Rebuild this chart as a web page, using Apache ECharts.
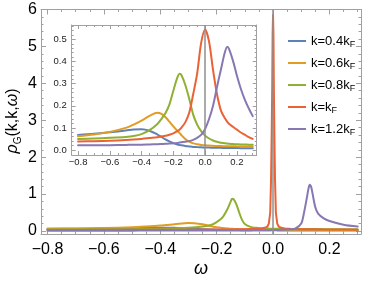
<!DOCTYPE html>
<html><head><meta charset="utf-8">
<script src="https://cdn.jsdelivr.net/npm/echarts@6/dist/echarts.min.js"></script>
<style>html,body{margin:0;padding:0;background:#fff}#c{width:366px;height:282px}</style>
</head><body><div id="c"></div>
<script>
// ---------- data ----------
const seriesNames = ['k=0.4k', 'k=0.6k', 'k=0.8k', 'k=k', 'k=1.2k'];
const seriesColors = ['#5E81B5', '#E19C24', '#8FB032', '#EB6235', '#8778B3'];

// main panel
const mainOmega = [-0.8,-0.7,-0.6,-0.5,-0.45,-0.4,-0.35,-0.3,-0.25,-0.22,
  -0.2,-0.18,-0.16,-0.15,-0.145,-0.14,-0.13,-0.12,-0.11,-0.1,
  -0.08,-0.06,-0.04,-0.03,-0.02,-0.015,-0.01,-0.007,-0.005,-0.003,
  -0.0015,0,0.0015,0.003,0.005,0.007,0.01,0.015,0.02,0.03,
  0.04,0.06,0.08,0.1,0.11,0.12,0.125,0.13,0.135,0.14,
  0.15,0.16,0.18,0.2,0.25,0.3];
const mainK04 = [0.055,0.06,0.066,0.075,0.082,0.09,0.088,0.07,0.05,0.04,
  0.035,0.03,0.027,0.026,0.025,0.025,0.024,0.023,0.022,0.021,
  0.02,0.019,0.018,0.018,0.017,0.017,0.017,0.017,0.017,0.017,
  0.017,0.017,0.017,0.017,0.017,0.017,0.017,0.016,0.016,0.016,
  0.016,0.015,0.015,0.015,0.015,0.015,0.015,0.015,0.015,0.015,
  0.014,0.014,0.014,0.014,0.013,0.013];
const mainK06 = [0.065,0.07,0.08,0.1,0.12,0.145,0.18,0.215,0.18,0.13,
  0.1,0.08,0.065,0.06,0.058,0.056,0.053,0.05,0.048,0.046,
  0.043,0.041,0.039,0.038,0.037,0.037,0.036,0.036,0.036,0.036,
  0.036,0.036,0.036,0.036,0.036,0.036,0.036,0.035,0.035,0.035,
  0.034,0.033,0.032,0.031,0.031,0.031,0.03,0.03,0.03,0.03,
  0.03,0.03,0.029,0.029,0.028,0.027];
const mainK08 = [0.04,0.042,0.045,0.05,0.055,0.06,0.07,0.085,0.12,0.16,
  0.24,0.36,0.62,0.8,0.87,0.86,0.72,0.5,0.3,0.19,
  0.11,0.085,0.072,0.068,0.065,0.064,0.063,0.062,0.062,0.062,
  0.062,0.062,0.062,0.062,0.062,0.061,0.061,0.06,0.06,0.058,
  0.057,0.055,0.054,0.053,0.052,0.052,0.052,0.052,0.052,0.052,
  0.051,0.051,0.05,0.05,0.049,0.048];
const mainK10 = [0.028,0.029,0.03,0.032,0.033,0.034,0.035,0.036,0.037,0.038,
  0.039,0.04,0.041,0.042,0.042,0.043,0.044,0.045,0.047,0.048,
  0.052,0.058,0.07,0.085,0.12,0.2,0.5,1.4,2.5,3.8,
  5.3,5.85,5.3,3.8,2.5,1.4,0.5,0.2,0.12,0.085,
  0.07,0.058,0.052,0.048,0.047,0.046,0.046,0.045,0.045,0.045,
  0.044,0.043,0.042,0.04,0.038,0.036];
const mainK12 = [0.008,0.008,0.009,0.009,0.01,0.01,0.01,0.011,0.011,0.012,
  0.012,0.012,0.013,0.013,0.013,0.013,0.014,0.014,0.014,0.015,
  0.016,0.017,0.019,0.02,0.021,0.022,0.022,0.023,0.023,0.023,
  0.024,0.024,0.024,0.025,0.025,0.025,0.026,0.027,0.028,0.03,
  0.035,0.045,0.07,0.2,0.5,0.9,1.12,1.25,1.2,1.02,
  0.64,0.47,0.34,0.27,0.17,0.12];

// inset panel
const insetOmega = [-0.8,-0.7,-0.6,-0.5,-0.45,-0.4,-0.35,-0.3,-0.275,-0.25,
  -0.225,-0.2,-0.175,-0.16,-0.15,-0.125,-0.1,-0.075,-0.05,-0.025,
  0,0.025,0.05,0.075,0.1,0.125,0.14,0.15,0.175,0.2,
  0.225,0.25,0.275,0.3];
const insetK04 = [0.068,0.073,0.08,0.088,0.093,0.094,0.087,0.07,0.059,0.048,
  0.039,0.031,0.025,0.023,0.021,0.018,0.016,0.014,0.013,0.012,
  0.011,0.011,0.010,0.010,0.010,0.009,0.009,0.009,0.009,0.009,
  0.008,0.008,0.008,0.008];
const insetK06 = [0.062,0.07,0.082,0.1,0.115,0.133,0.154,0.168,0.163,0.149,
  0.128,0.107,0.087,0.076,0.068,0.05,0.038,0.03,0.026,0.023,
  0.021,0.02,0.019,0.018,0.018,0.017,0.017,0.017,0.017,0.016,
  0.016,0.016,0.016,0.016];
const insetK08 = [0.05,0.052,0.055,0.059,0.063,0.072,0.09,0.118,0.14,0.166,
  0.205,0.268,0.327,0.345,0.34,0.295,0.232,0.16,0.115,0.085,
  0.065,0.052,0.043,0.037,0.033,0.03,0.029,0.028,0.027,0.026,
  0.025,0.025,0.024,0.024];
const insetK10 = [0.038,0.04,0.042,0.045,0.047,0.05,0.054,0.058,0.061,0.064,
  0.069,0.075,0.085,0.093,0.1,0.125,0.168,0.252,0.345,0.483,
  0.545,0.49,0.362,0.252,0.178,0.143,0.127,0.119,0.105,0.092,
  0.079,0.069,0.058,0.05];
const insetK12 = [0.021,0.021,0.022,0.023,0.024,0.024,0.025,0.026,0.027,0.028,
  0.029,0.03,0.032,0.034,0.035,0.037,0.04,0.046,0.055,0.068,
  0.095,0.14,0.2,0.285,0.365,0.443,0.467,0.458,0.405,0.337,
  0.277,0.228,0.188,0.153];

// ticks
const mainXMajor = [-0.8,-0.6,-0.4,-0.2,0,0.2];
const mainXMinor = [-0.75,-0.7,-0.65,-0.55,-0.5,-0.45,-0.35,-0.3,-0.25,-0.15,-0.1,-0.05,0.05,0.1,0.15,0.25,0.3];
const mainYMajor = [0,1,2,3,4,5,6];
const mainYMinor = [0.2,0.4,0.6,0.8,1.2,1.4,1.6,1.8,2.2,2.4,2.6,2.8,3.2,3.4,3.6,3.8,4.2,4.4,4.6,4.8,5.2,5.4,5.6,5.8];
const insetXMajor = [-0.8,-0.6,-0.4,-0.2,0,0.2];
const insetXMinor = mainXMinor;
const insetYMajor = [0,0.1,0.2,0.3,0.4,0.5];
const insetYMinor = [0.02,0.04,0.06,0.08,0.12,0.14,0.16,0.18,0.22,0.24,0.26,0.28,0.32,0.34,0.36,0.38,0.42,0.44,0.46,0.48,0.52,0.54,0.56];

// ---------- chart ----------
const FRAME = '#a0a0a0';
const FONT = 'Liberation Sans';
function fmtNum(v, dec) {
  const s = Math.abs(v).toFixed(dec);
  return (v < -1e-9 ? '\u2212' : '') + s;
}
function axesFor(kind, gridIndex, min, max, major, minor, majLen, minLen, label) {
  const pos = kind === 'x' ? ['bottom', 'top'] : ['left', 'right'];
  const out = [];
  pos.forEach((p, pi) => {
    [major, minor].forEach((vals, vi) => {
      out.push({
        type: 'value', gridIndex, min, max, position: p,
        splitLine: { show: false },
        axisLine: { show: vi === 0, onZero: false, lineStyle: { color: FRAME, width: 1 } },
        axisTick: { show: true, inside: true, length: vi === 0 ? majLen : minLen, customValues: vals,
                    lineStyle: { color: FRAME, width: 1 } },
        axisLabel: (pi === 0 && vi === 0) ? Object.assign({ show: true, customValues: vals }, label) : { show: false }
      });
    });
  });
  return out;
}

const xAxes = [].concat(
  axesFor('x', 0, -0.823, 0.312, mainXMajor, mainXMinor, 5, 2.5,
    { fontSize: 16, fontFamily: FONT, color: '#000', margin: 8, formatter: v => fmtNum(v, 1) }),
  axesFor('x', 1, -0.84, 0.325, insetXMajor, insetXMinor, 4, 2,
    { fontSize: 9.5, fontFamily: FONT, color: '#222', margin: 2, formatter: v => fmtNum(v, 1) })
);
const yAxes = [].concat(
  axesFor('y', 0, -0.082, 6, mainYMajor, mainYMinor, 5, 2.5,
    { fontSize: 16, fontFamily: FONT, color: '#000', margin: 4, formatter: v => fmtNum(v, 0) }),
  axesFor('y', 1, -0.0226, 0.565, insetYMajor, insetYMinor, 4, 2,
    { fontSize: 9.5, fontFamily: FONT, color: '#222', margin: 5, formatter: v => fmtNum(v, 1) })
);

const mainVals = [mainK04, mainK06, mainK08, mainK10, mainK12];
const insetVals = [insetK04, insetK06, insetK08, insetK10, insetK12];
const vline = {
  silent: true, symbol: 'none', animation: false,
  label: { show: false },
  lineStyle: { color: '#8f8f8f', width: 1.5, type: 'solid' },
  data: [{ xAxis: 0 }]
};
const series = [];
function addSeries(omega, valsList, xi, yi, isMain) {
  valsList.forEach((vals, i) => {
    series.push({
      name: seriesNames[i], type: 'line', xAxisIndex: xi, yAxisIndex: yi,
      data: omega.map((w, j) => [w, vals[j]]),
      symbol: 'none', showSymbol: false,
      smooth: (isMain && i === 3) ? false : 0.3,
      lineStyle: { width: 2, color: seriesColors[i], cap: 'round', join: 'round' },
      itemStyle: { color: seriesColors[i] },
      markLine: i === 4 ? vline : undefined
    });
  });
}
addSeries(mainOmega, mainVals, 0, 0, true);
addSeries(insetOmega, insetVals, 4, 4, false);

const chart = echarts.init(document.getElementById('c'), null, { renderer: 'canvas' });
chart.setOption({
  animation: false,
  backgroundColor: '#fff',
  grid: [
    { left: 41, right: 5, top: 9.5, bottom: 48 },
    { left: 71.7, right: 109.3, top: 25, bottom: 127 }
  ],
  xAxis: xAxes,
  yAxis: yAxes,
  legend: {
    orient: 'vertical', left: 283, top: 29.5,
    icon: 'rect', itemWidth: 18, itemHeight: 2, itemGap: 7.5,
    data: seriesNames,
    formatter: n => '{m|' + n + '}{s|F}',
    textStyle: {
      rich: {
        m: { fontSize: 13, fontFamily: FONT, color: '#000', lineHeight: 16, verticalAlign: 'middle' },
        s: { fontSize: 9, fontFamily: FONT, color: '#000', lineHeight: 9, verticalAlign: 'bottom' }
      }
    }
  },
  graphic: [
    {
      type: 'text', x: 13, y: 121, rotation: Math.PI / 2,
      style: {
        text: '{i|\u03C1}{s|G}{n|(k,k,}{i|\u03C9}{n|)}',
        align: 'center', verticalAlign: 'middle',
        rich: {
          i: { fontSize: 16, fontFamily: FONT, fontStyle: 'italic', fill: '#000', lineHeight: 20, verticalAlign: 'middle' },
          n: { fontSize: 16, fontFamily: FONT, fill: '#000', lineHeight: 20, verticalAlign: 'middle' },
          s: { fontSize: 10, fontFamily: FONT, fill: '#000', lineHeight: 10, verticalAlign: 'bottom' }
        }
      }
    },
    {
      type: 'text', x: 201, y: 269,
      style: { text: '\u03C9', font: 'italic 18px "Liberation Sans"', fill: '#000', align: 'center', verticalAlign: 'middle' }
    }
  ],
  series
});
</script>
</body></html>
